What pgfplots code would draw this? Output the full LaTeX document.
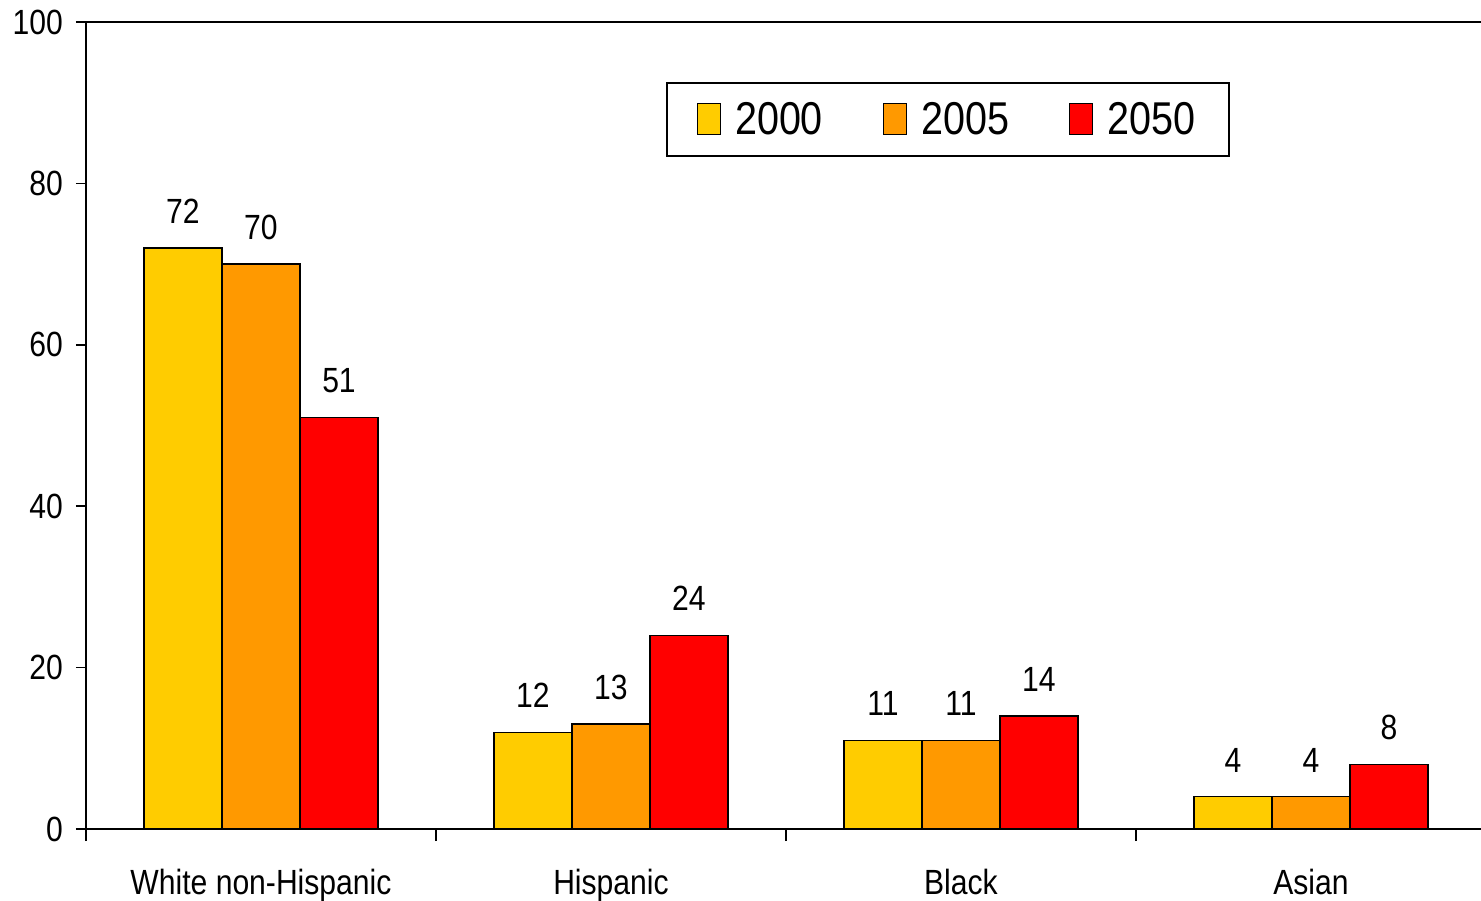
\documentclass[border=0pt]{standalone}
\usepackage{fontspec}
\setmainfont{Liberation Sans}[FakeStretch=0.86]
\usepackage{pgfplots}
\pgfplotsset{compat=1.18}

\definecolor{c2000}{HTML}{FFCC00}
\definecolor{c2005}{HTML}{FF9900}
\definecolor{c2050}{HTML}{FF0000}

\begin{document}
\begin{tikzpicture}
\begin{axis}[
    name=ax,
    scale only axis,
    width=697.5pt, height=403.5pt,
    xmin=-0.5, xmax=3.486,
    ymin=0, ymax=100,
    ytick={0,20,...,100},
    xtick={0,1,2,3},
    xticklabels={White non-Hispanic, Hispanic, Black, Asian},
    minor xtick={-0.5,0.5,1.5,2.5},
    major x tick style={draw=none},
    tick align=outside,
    major tick length=5pt,
    minor tick length=6pt,
    axis x line*=bottom,
    axis y line*=left,
    axis line style={line width=1pt},
    every tick/.append style={line width=0.8pt, black},
    tick label style={font=\fontsize{17.5}{21}\selectfont},
    xticklabel style={yshift=-11.5pt},
    yticklabel style={xshift=-3pt},
    /pgf/number format/assume math mode=true,
    ybar=0pt,
    bar width=39pt,
    nodes near coords,
    every node near coord/.append style={font=\fontsize{17.5}{21}\selectfont, anchor=south, inner sep=0pt, yshift=12pt},
    legend columns=3,
    legend style={at={(0.618,0.879)}, anchor=center, draw=black, line width=1pt,
        font=\fontsize{23}{27}\selectfont, inner xsep=15pt, inner ysep=7.5pt,
        /tikz/every odd column/.append style={column sep=5pt},
        /tikz/every even column/.append style={column sep=28pt}},
    legend image code/.code={\draw[#1, draw=black, line width=0.6pt] (0pt,-7.5pt) rectangle (11.5pt,8pt);},
]
\addplot[fill=c2000, draw=black, line width=0.6pt] coordinates {(0,72) (1,12) (2,11) (3,4)};
\addplot[fill=c2005, draw=black, line width=0.6pt] coordinates {(0,70) (1,13) (2,11) (3,4)};
\addplot[fill=c2050, draw=black, line width=0.6pt] coordinates {(0,51) (1,24) (2,14) (3,8)};
\legend{2000, 2005, 2050}
\draw[line width=1pt] (rel axis cs:0,1) -- (rel axis cs:1,1);
\end{axis}
\pgfresetboundingbox
\path ([xshift=-43pt,yshift=-35.5pt]ax.south west) rectangle ([yshift=11pt]ax.north east);
\end{tikzpicture}
\end{document}
